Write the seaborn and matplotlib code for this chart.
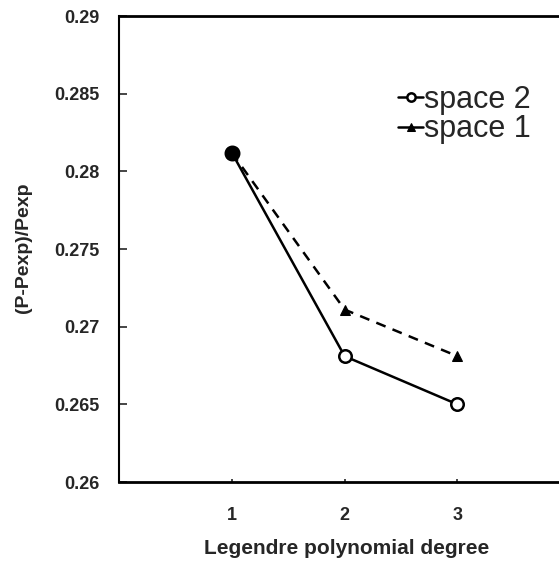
import matplotlib
matplotlib.use("Agg")
import matplotlib.pyplot as plt
import seaborn as sns
import pandas as pd

degrees = [1, 2, 3]
space2 = [0.2812, 0.2681, 0.2650]
space1 = [0.2812, 0.2711, 0.2681]
series_names = ["space 2", "space 1"]
y_ticks = [0.26, 0.265, 0.27, 0.275, 0.28, 0.285, 0.29]
y_tick_labels = ["0.26", "0.265", "0.27", "0.275", "0.28", "0.285", "0.29"]
x_ticks = [1, 2, 3]

df = pd.DataFrame({
    "degree": degrees * 2,
    "value": space2 + space1,
    "series": [series_names[0]] * 3 + [series_names[1]] * 3,
})

sns.set_style("white")
plt.rcParams["font.family"] = ["Liberation Sans", "DejaVu Sans"]

fig = plt.figure(figsize=(5.59, 5.62), dpi=100)
ax = fig.add_axes([0.2129, 0.1423, 0.7871, 0.8292])

sns.lineplot(
    data=df, x="degree", y="value", hue="series", style="series",
    hue_order=series_names, style_order=series_names,
    palette={"space 2": "black", "space 1": "black"},
    markers={"space 2": "o", "space 1": "^"},
    dashes={"space 2": "", "space 1": (4, 3)},
    linewidth=1.8, markersize=9, ax=ax, legend=True,
)
for line in ax.get_lines():
    if line.get_marker() == "o":
        line.set_markerfacecolor("white")
        line.set_markeredgecolor("black")
        line.set_markeredgewidth(1.8)
    elif line.get_marker() == "^":
        line.set_markerfacecolor("black")
        line.set_markeredgecolor("black")
        line.set_markersize(7)

# the shared first point appears filled
ax.scatter([degrees[0]], [space2[0]], s=110, color="black", zorder=5)

ax.set_xlim(0, 3.9)
ax.set_ylim(0.26, 0.29)
ax.set_yticks(y_ticks)
ax.set_yticklabels(y_tick_labels)
ax.set_xticks(x_ticks)
ax.set_xticklabels([str(d) for d in x_ticks])

for lab in ax.get_yticklabels() + ax.get_xticklabels():
    lab.set_fontweight("bold")
    lab.set_fontsize(13)

ax.tick_params(axis="y", direction="in", length=6, width=1.2, left=True, pad=14)
ax.tick_params(axis="x", direction="in", length=2, width=1.2, bottom=True, pad=18)

ax.set_xlabel("Legendre polynomial degree", fontsize=15, fontweight="bold")
ax.xaxis.set_label_coords(0.518, -0.122)
ax.set_ylabel("(P-Pexp)/Pexp", fontsize=14, fontweight="bold")
ax.yaxis.set_label_coords(-0.197, 0.502)

ax.spines["right"].set_visible(False)
ax.spines["top"].set_linewidth(2.0)
ax.spines["bottom"].set_linewidth(2.0)
ax.spines["left"].set_linewidth(1.5)
for s in ax.spines.values():
    s.set_color("black")

leg = ax.legend(loc="upper left", bbox_to_anchor=(0.6, 0.885), frameon=False,
                fontsize=22, handlelength=0.8, handletextpad=0.05, labelspacing=-0.02,
                borderpad=0.0)
for h in leg.get_lines():
    h.set_linestyle("-")
    h.set_linewidth(1.8)
    h.set_markersize(6)

fig.savefig("out.png", dpi=100)
